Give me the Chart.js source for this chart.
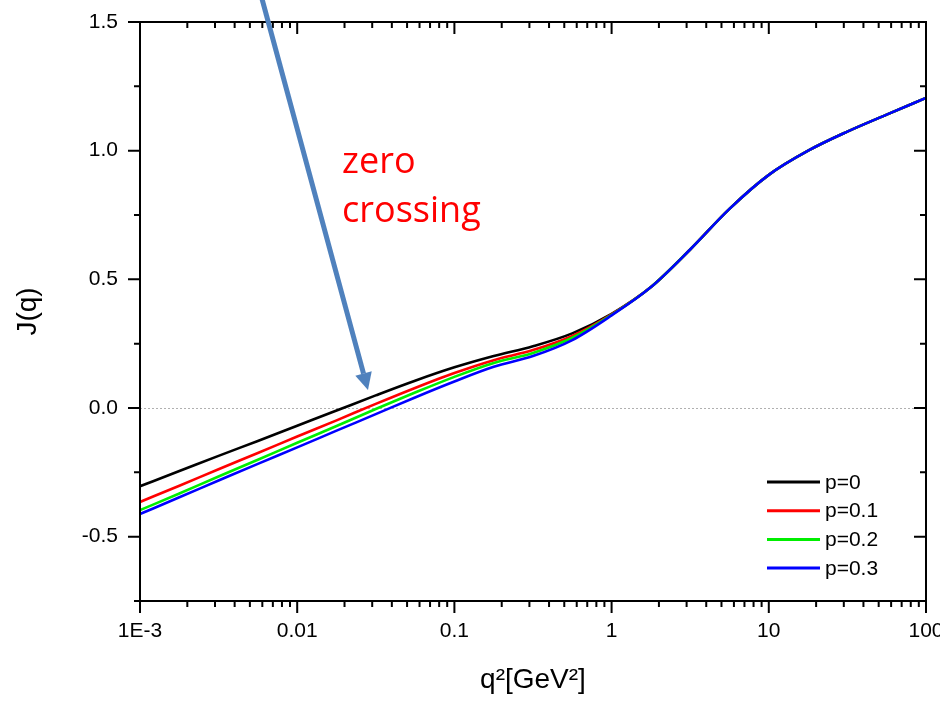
<!DOCTYPE html>
<html>
<head>
<meta charset="utf-8">
<script src="https://cdn.jsdelivr.net/npm/chart.js@4.4.0/dist/chart.umd.min.js"></script>
<style>
  html, body { margin: 0; padding: 0; background: #fff; }
  #wrap { width: 940px; height: 703px; }
</style>
</head>
<body>
<div id="wrap"><canvas id="chart" width="940" height="703"></canvas></div>
<script>
// q^2 in GeV^2 (quarter-decade steps)
const q2 = [0.001, 0.00178, 0.00316, 0.00562, 0.01, 0.0178, 0.0316, 0.0562, 0.1, 0.178, 0.316,
            0.562, 1, 1.78, 3.16, 5.62, 10, 17.8, 31.6, 56.2, 100];

// J(q) for each p
const jP0  = [-0.304, -0.245, -0.186, -0.128, -0.069, -0.010, 0.049, 0.106, 0.158, 0.202, 0.240,
              0.290, 0.366, 0.470, 0.616, 0.774, 0.906, 1.000, 1.074, 1.140, 1.205];
const jP01 = [-0.365, -0.302, -0.238, -0.175, -0.111, -0.048, 0.016, 0.078, 0.136, 0.186, 0.225,
              0.280, 0.364, 0.470, 0.616, 0.774, 0.906, 1.000, 1.074, 1.140, 1.205];
const jP02 = [-0.397, -0.332, -0.266, -0.201, -0.135, -0.070, -0.004, 0.060, 0.121, 0.175, 0.214,
              0.273, 0.362, 0.470, 0.616, 0.774, 0.906, 1.000, 1.074, 1.140, 1.205];
const jP03 = [-0.412, -0.347, -0.282, -0.217, -0.153, -0.088, -0.024, 0.041, 0.103, 0.160, 0.202,
              0.264, 0.360, 0.470, 0.616, 0.774, 0.906, 1.000, 1.074, 1.140, 1.205];

const seriesLabels = ['p=0', 'p=0.1', 'p=0.2', 'p=0.3'];
const seriesColors = ['#000000', '#ff0000', '#00ee00', '#0000ff'];

// axis ticks
const xMajor = [0.001, 0.01, 0.1, 1, 10, 100];
const xTickLabels = ['1E-3', '0.01', '0.1', '1', '10', '100'];
const yTickValues = [-0.75, -0.5, -0.25, 0, 0.25, 0.5, 0.75, 1, 1.25, 1.5];
const yTickLabels = ['', '-0.5', '', '0.0', '', '0.5', '', '1.0', '', '1.5'];

// annotation (in data coordinates)
const arrowFrom = { x: 0.00597, y: 1.59 };
const arrowTo = { x: 0.0282, y: 0.07 };
const noteAt = { x: 0.0193, y: 0.914 };
const noteLines = ['zero', 'crossing'];

const xTickValues = [];
xMajor.forEach((m, i) => {
  xTickValues.push({ value: m, major: true });
  if (i < xMajor.length - 1) for (let k = 2; k <= 9; k++) xTickValues.push({ value: k * m, major: false });
});

const allSeries = [jP0, jP01, jP02, jP03];
const datasets = allSeries.map((vals, i) => ({
  label: seriesLabels[i],
  data: q2.map((x, j) => ({ x: x, y: vals[j] })),
  borderColor: seriesColors[i],
  backgroundColor: seriesColors[i],
  borderWidth: 2.6,
  pointRadius: 0,
  cubicInterpolationMode: 'monotone',
  fill: false,
  order: allSeries.length - i   // last series (p=0.3) drawn on top
}));

const axisFont = { family: 'Liberation Sans, Arial, sans-serif', size: 21 };
const titleFont = { family: 'Liberation Sans, Arial, sans-serif', size: 28 };

const decorations = {
  id: 'decorations',
  beforeDatasetsDraw(chart) {
    const { ctx, chartArea: a, scales: { y } } = chart;
    ctx.save();
    ctx.strokeStyle = '#b0b0b0';
    ctx.lineWidth = 1;
    ctx.setLineDash([2, 2]);
    const y0 = Math.round(y.getPixelForValue(0)) + 0.5;
    ctx.beginPath();
    ctx.moveTo(a.left, y0);
    ctx.lineTo(a.right, y0);
    ctx.stroke();
    ctx.restore();
  },
  afterDraw(chart) {
    const { ctx, chartArea: a, scales: { x, y } } = chart;
    ctx.save();
    ctx.strokeStyle = '#000';
    ctx.lineWidth = 2;
    ctx.strokeRect(a.left, a.top, a.right - a.left, a.bottom - a.top);

    // x ticks: bottom outward, top inward
    x.ticks.forEach(t => {
      const px = x.getPixelForValue(t.value);
      const len = t.major ? 12 : 6;
      ctx.beginPath();
      ctx.moveTo(px, a.bottom); ctx.lineTo(px, a.bottom + len);
      ctx.moveTo(px, a.top); ctx.lineTo(px, a.top + len);
      ctx.stroke();
    });
    // y ticks: left outward, right inward
    y.ticks.forEach((t, i) => {
      const py = y.getPixelForValue(t.value);
      const len = yTickLabels[i] ? 12 : 6;
      ctx.beginPath();
      ctx.moveTo(a.left - len, py); ctx.lineTo(a.left, py);
      ctx.moveTo(a.right - len, py); ctx.lineTo(a.right, py);
      ctx.stroke();
    });

    // legend inside plot
    ctx.font = '21px Liberation Sans, Arial, sans-serif';
    ctx.textBaseline = 'middle';
    ctx.textAlign = 'left';
    chart.data.datasets.forEach((ds, i) => {
      const ly = a.bottom - 119 + i * 28.7;
      ctx.strokeStyle = ds.borderColor;
      ctx.lineWidth = 3;
      ctx.beginPath();
      ctx.moveTo(a.right - 159, ly);
      ctx.lineTo(a.right - 106, ly);
      ctx.stroke();
      ctx.fillStyle = '#000';
      ctx.fillText(ds.label, a.right - 101, ly + 1);
    });

    // arrow
    const x1 = x.getPixelForValue(arrowFrom.x), y1 = y.getPixelForValue(arrowFrom.y);
    const x2 = x.getPixelForValue(arrowTo.x), y2 = y.getPixelForValue(arrowTo.y);
    const ang = Math.atan2(y2 - y1, x2 - x1);
    const headLen = 17, headW = 8.5;
    const bx = x2 - headLen * Math.cos(ang), by = y2 - headLen * Math.sin(ang);
    ctx.strokeStyle = '#4f81bd';
    ctx.fillStyle = '#4f81bd';
    ctx.lineWidth = 5;
    ctx.beginPath();
    ctx.moveTo(x1, y1);
    ctx.lineTo(bx, by);
    ctx.stroke();
    ctx.beginPath();
    ctx.moveTo(x2, y2);
    ctx.lineTo(bx + headW * Math.sin(ang), by - headW * Math.cos(ang));
    ctx.lineTo(bx - headW * Math.sin(ang), by + headW * Math.cos(ang));
    ctx.closePath();
    ctx.fill();

    // note
    ctx.fillStyle = '#ff0000';
    ctx.font = '36px "Open Sans", sans-serif';
    ctx.textBaseline = 'alphabetic';
    const nx = x.getPixelForValue(noteAt.x), ny = y.getPixelForValue(noteAt.y);
    noteLines.forEach((s, i) => ctx.fillText(s, nx, ny + i * 49));
    ctx.restore();
  }
};

new Chart(document.getElementById('chart'), {
  type: 'line',
  data: { datasets: datasets },
  options: {
    responsive: false,
    animation: false,
    layout: { padding: { top: 22, right: 14, left: 0, bottom: 0 } },
    plugins: { legend: { display: false }, tooltip: { enabled: false } },
    scales: {
      x: {
        type: 'logarithmic',
        min: 0.001,
        max: 100,
        afterBuildTicks: s => { s.ticks = xTickValues.map(t => ({ value: t.value, major: t.major })); },
        afterFit: s => { s.height = 102; s.paddingLeft = 0; s.paddingRight = 0; },
        ticks: {
          autoSkip: false, maxRotation: 0, minRotation: 0, padding: 11,
          color: '#000', font: axisFont,
          callback: (v, i, ticks) => {
            const k = xMajor.indexOf(ticks[i].value);
            return k >= 0 ? xTickLabels[k] : '';
          }
        },
        grid: { display: true, drawOnChartArea: false, drawTicks: true, tickLength: 7, tickColor: 'rgba(0,0,0,0)' },
        border: { display: false },
        title: { display: true, text: 'q\u00b2[GeV\u00b2]', color: '#000', font: titleFont, padding: { top: 0, bottom: 6 } }
      },
      y: {
        type: 'linear',
        min: -0.75,
        max: 1.5,
        afterBuildTicks: s => { s.ticks = yTickValues.map(v => ({ value: v })); },
        afterFit: s => { s.width = 140; s.paddingTop = 0; s.paddingBottom = 0; },
        ticks: {
          autoSkip: false, padding: 15, color: '#000', font: axisFont,
          callback: (v, i) => yTickLabels[i]
        },
        grid: { display: true, drawOnChartArea: false, drawTicks: true, tickLength: 7, tickColor: 'rgba(0,0,0,0)' },
        border: { display: false },
        title: { display: true, text: 'J(q)', color: '#000', font: titleFont, padding: { top: 11, bottom: 0 } }
      }
    }
  },
  plugins: [decorations]
});
</script>
</body>
</html>
